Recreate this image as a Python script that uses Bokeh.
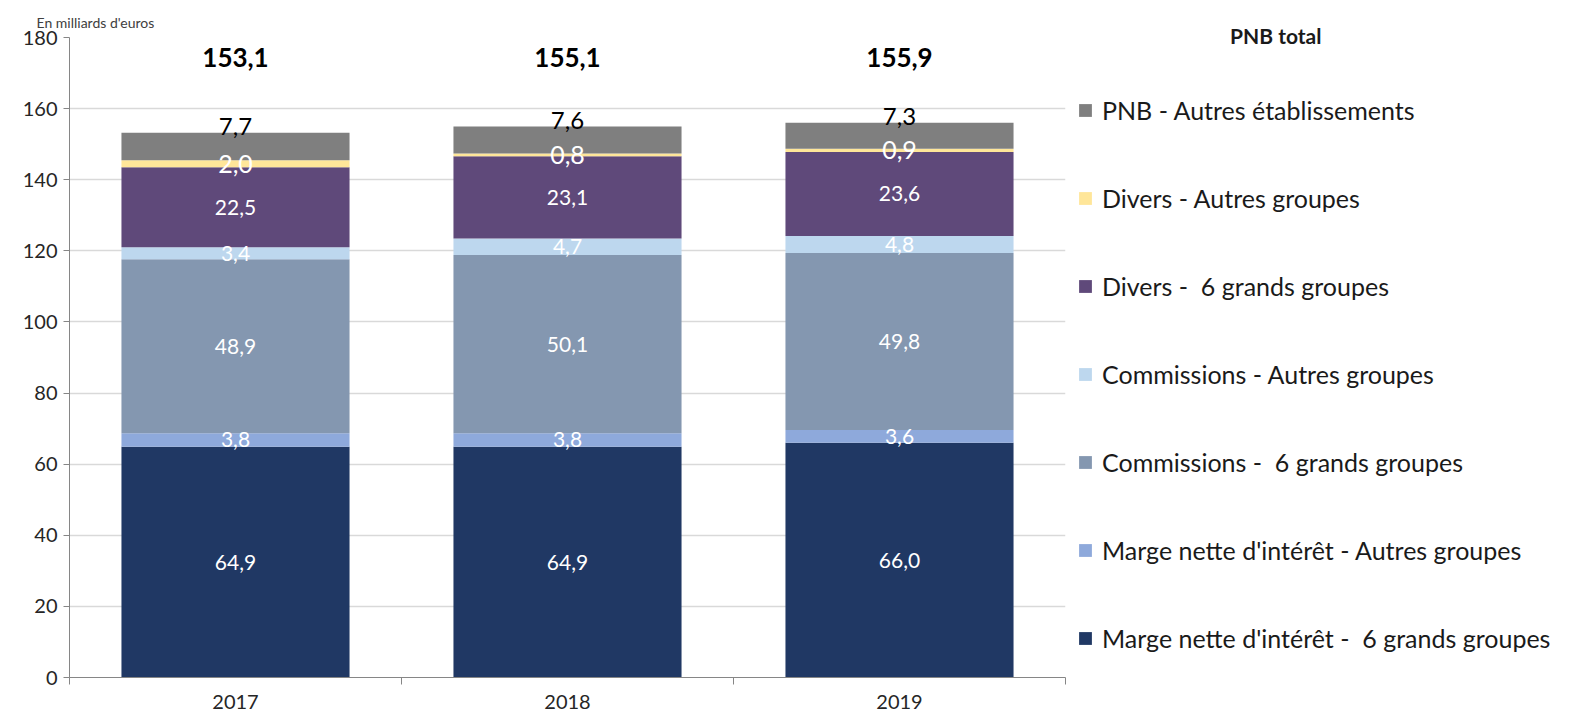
from bokeh.plotting import figure
from bokeh.models import ColumnDataSource, Legend, LegendItem, FixedTicker, Range1d
from bokeh.core.properties import value
from bokeh.embed import file_html
from bokeh.resources import INLINE

years = ["2017", "2018", "2019"]
series_names = [
    "Marge nette d'intérêt -  6 grands groupes",
    "Marge nette d'intérêt - Autres groupes",
    "Commissions -  6 grands groupes",
    "Commissions - Autres groupes",
    "Divers -  6 grands groupes",
    "Divers - Autres groupes",
    "PNB - Autres établissements",
]
marge_6 = [64.9, 64.9, 66.0]
marge_autres = [3.8, 3.8, 3.6]
comm_6 = [48.9, 50.1, 49.8]
comm_autres = [3.4, 4.7, 4.8]
divers_6 = [22.5, 23.1, 23.6]
divers_autres = [2.0, 0.8, 0.9]
pnb_autres = [7.7, 7.6, 7.3]
totals = [153.1, 155.1, 155.9]
y_ticks = [0, 20, 40, 60, 80, 100, 120, 140, 160, 180]

colors = ["#203864", "#8EA9DB", "#8497B0", "#BDD7EE", "#5F497A", "#FFE699", "#7F7F7F"]
FONT = "Lato"

series = [marge_6, marge_autres, comm_6, comm_autres, divers_6, divers_autres, pnb_autres]
keys = ["s%d" % i for i in range(len(series))]
xs = [i + 0.5 for i in range(len(years))]
data = {"x": xs}
for k, s in zip(keys, series):
    data[k] = s
source = ColumnDataSource(data)

p = figure(frame_width=996, frame_height=640, output_backend="svg", toolbar_location=None,
           x_range=Range1d(0, 3), y_range=Range1d(0, 180),
           min_border_left=69, min_border_right=0, min_border_top=37, min_border_bottom=41,
           title="En milliards d'euros")
p.outline_line_color = None
p.background_fill_color = "white"
p.title.align = "left"
p.title.offset = -33
p.title.standoff = 14
p.title.text_font = FONT
p.title.text_font_size = "14px"
p.title.text_font_style = "normal"
p.title.text_color = "#404040"

renderers = p.vbar_stack(keys, x="x", width=0.687, source=source, color=colors, line_color=None)

# axes
p.xaxis.ticker = FixedTicker(ticks=xs, minor_ticks=[0, 1, 2, 3])
p.xaxis.major_label_overrides = {x: y for x, y in zip(xs, years)}
p.xaxis.major_tick_line_color = None
p.xaxis.minor_tick_out = 7
p.xaxis.minor_tick_in = 0
p.xaxis.minor_tick_line_color = "#868686"
p.xaxis.axis_line_color = "#868686"
p.xaxis.major_label_text_font = FONT
p.xaxis.major_label_text_font_size = "20px"
p.xaxis.major_label_text_color = "#262626"
p.xaxis.major_label_standoff = 10

p.yaxis.ticker = FixedTicker(ticks=y_ticks)
p.yaxis.minor_tick_line_color = None
p.yaxis.major_tick_out = 6
p.yaxis.major_tick_in = 0
p.yaxis.major_tick_line_color = "#868686"
p.yaxis.axis_line_color = "#868686"
p.yaxis.major_label_text_font = FONT
p.yaxis.major_label_text_font_size = "20px"
p.yaxis.major_label_text_color = "#262626"
p.yaxis.major_label_standoff = 6

p.xgrid.grid_line_color = None
p.ygrid.grid_line_color = "#D9D9D9"
p.ygrid.grid_line_width = 1.5

# segment labels
def fmt(v):
    return ("%.1f" % v).replace(".", ",")

cum = [0.0] * len(years)
inner_x, inner_y, inner_t = [], [], []
big_x, big_y, big_t = [], [], []
for si, s in enumerate(series):
    for i, v in enumerate(s):
        mid = cum[i] + v / 2
        if si == 5:
            big_x.append(xs[i]); big_y.append(mid); big_t.append(fmt(v))
        elif si < 5:
            inner_x.append(xs[i]); inner_y.append(mid); inner_t.append(fmt(v))
        cum[i] += v

p.text(x=inner_x, y=inner_y, text=inner_t, text_align="center", text_baseline="middle",
       text_font=value(FONT), text_font_size="21px", text_color="white")
p.text(x=big_x, y=big_y, text=big_t, text_align="center", text_baseline="middle",
       text_font=value(FONT), text_font_size="25px", text_color="white")
p.text(x=xs, y=cum, text=[fmt(v) for v in pnb_autres], text_align="center",
       text_baseline="alphabetic", y_offset=-6,
       text_font=value(FONT), text_font_size="24px", text_color="black")
p.text(x=xs, y=[174.4] * 3, text=[fmt(v) for v in totals], text_align="center",
       text_baseline="middle", text_font=value(FONT), text_font_size="26px",
       text_font_style="bold", text_color="black")

# legend
items = [LegendItem(label=series_names[i], renderers=[renderers[i]]) for i in range(len(series) - 1, -1, -1)]
legend = Legend(items=items, location=(12, 24), orientation="vertical",
                title="\u00a0" * 30 + "PNB total", title_text_font=FONT, title_text_font_size="21px",
                title_text_font_style="bold", title_text_color="#1a1a1a", title_standoff=47,
                padding=0, margin=0, spacing=58, label_height=30, glyph_height=16, glyph_width=16,
                label_standoff=9, label_text_font=FONT, label_text_font_size="25px",
                label_text_color="#1a1a1a", border_line_color=None, background_fill_alpha=0)
p.add_layout(legend, "right")

open("out.html", "w").write(file_html(p, INLINE))
